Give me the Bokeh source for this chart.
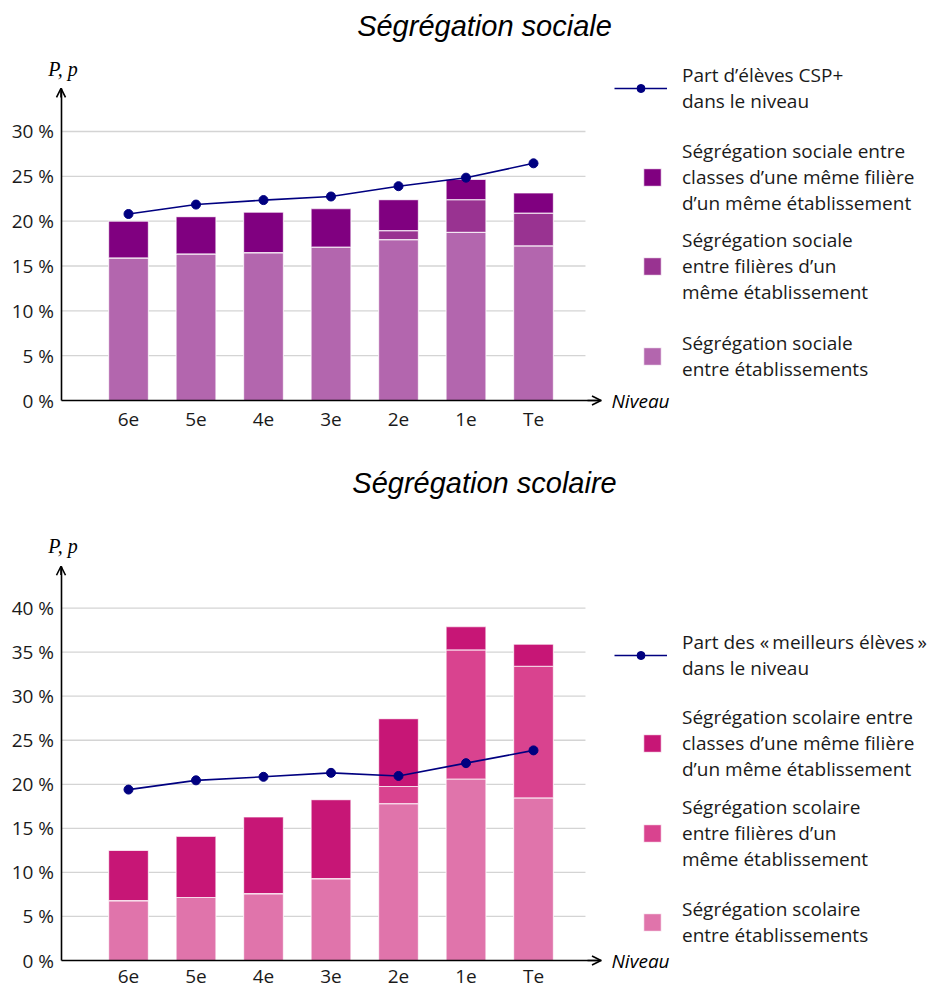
from bokeh.plotting import figure
from bokeh.models import (ColumnDataSource, Range1d, FixedTicker, Legend, LegendItem,
                          Label, Arrow, OpenHead)
from bokeh.layouts import column
from bokeh.embed import file_html
from bokeh.resources import INLINE

# ---------------- data ----------------
levels = ["6e", "5e", "4e", "3e", "2e", "1e", "Te"]

soc_etab = [15.9, 16.35, 16.5, 17.1, 17.95, 18.75, 17.25]
soc_fil = [0.0, 0.0, 0.0, 0.0, 1.0, 3.65, 3.65]
soc_cls = [4.1, 4.15, 4.5, 4.3, 3.45, 2.25, 2.25]
soc_part = [20.8, 21.85, 22.35, 22.75, 23.9, 24.85, 26.45]
soc_ticks = [0, 5, 10, 15, 20, 25, 30]

sco_etab = [6.8, 7.15, 7.6, 9.3, 17.8, 20.6, 18.45]
sco_fil = [0.0, 0.0, 0.0, 0.0, 1.95, 14.65, 14.95]
sco_cls = [5.7, 6.95, 8.7, 8.95, 7.7, 2.65, 2.5]
sco_part = [19.4, 20.45, 20.85, 21.3, 20.95, 22.4, 23.85]
sco_ticks = [0, 5, 10, 15, 20, 25, 30, 35, 40]

soc_title = "Ségrégation sociale"
sco_title = "Ségrégation scolaire"

soc_labels = [
    "Part d’élèves CSP+\ndans le niveau",
    "Ségrégation sociale entre\nclasses d’une même filière\nd’un même établissement",
    "Ségrégation sociale\nentre filières d’un\nmême établissement",
    "Ségrégation sociale\nentre établissements",
]
sco_labels = [
    "Part des «\u2009meilleurs élèves\u2009»\ndans le niveau",
    "Ségrégation scolaire entre\nclasses d’une même filière\nd’un même établissement",
    "Ségrégation scolaire\nentre filières d’un\nmême établissement",
    "Ségrégation scolaire\nentre établissements",
]

soc_colors = ["#b366ae", "#993391", "#800080"]
sco_colors = ["#e074ab", "#d9438f", "#c71676"]

# ---------------- style ----------------
LINE_COLOR = "#000080"
FONT = "Open Sans"
FS = 19
LH = 1.4
TEXT_COLOR = "#1a1a1a"
W = 929
OFF = 0            # page offset of the canvas
X_LEFT = -1.0      # y axis position
X_GRID_END = 6.77  # grid lines end
X_ARROW = 7.0      # x axis arrow tip
PX_X = 67.5        # px per category
AXIS_PAGE_X = 60.5


def make_chart(title, etab, fil, cls, part, ticks, ytop, labels, colors,
               page_top, height, zero_page_y, px_y, x_standoff,
               title_y, pp_y, legend_centers):
    x = list(range(len(levels)))
    src = ColumnDataSource(dict(x=x, etab=etab, fil=fil, cls=cls, part=part))
    gsrc = ColumnDataSource(dict(t=ticks[1:]))

    page_bottom = page_top + height
    x0 = X_LEFT - (AXIS_PAGE_X - OFF) / PX_X
    x1 = x0 + W / PX_X
    y1 = (zero_page_y - page_top) / px_y
    y0 = -(page_bottom - zero_page_y) / px_y

    p = figure(width=W, height=height, output_backend="svg", toolbar_location=None,
               x_range=Range1d(x0, x1), y_range=Range1d(y0, y1),
               min_border=0, min_border_left=0, min_border_right=0,
               min_border_top=0, min_border_bottom=0,
               outline_line_color=None)
    p.background_fill_color = "white"
    p.border_fill_color = "white"
    p.xgrid.visible = False
    p.ygrid.visible = False

    # horizontal grid lines, limited to the chart area
    p.segment(x0=X_LEFT, x1=X_GRID_END, y0="t", y1="t", source=gsrc,
              line_color="#d4d4d4", line_width=1.3)

    # axes (fixed inside the frame)
    p.xaxis.ticker = FixedTicker(ticks=x)
    p.xaxis.major_label_overrides = {i: lab for i, lab in zip(x, levels)}
    p.xaxis.fixed_location = 0
    p.xaxis.bounds = (X_LEFT, X_ARROW)
    p.yaxis.ticker = FixedTicker(ticks=ticks)
    p.yaxis.major_label_overrides = {t: f"{t} %" for t in ticks}
    p.yaxis.fixed_location = X_LEFT
    p.yaxis.bounds = (0, ytop)
    for ax in (p.xaxis, p.yaxis):
        ax.major_tick_out = 0
        ax.major_tick_in = 0
        ax.minor_tick_out = 0
        ax.minor_tick_in = 0
        ax.axis_line_color = "black"
        ax.axis_line_width = 1.6
        ax.major_label_text_font = FONT
        ax.major_label_text_font_size = f"{FS}px"
        ax.major_label_text_color = TEXT_COLOR
    p.yaxis.major_label_standoff = 7
    p.xaxis.major_label_standoff = x_standoff

    # stacked bars
    bars = p.vbar_stack(["etab", "fil", "cls"], x="x", width=0.59, color=colors,
                        source=src, line_color="white", line_alpha=0.7, line_width=1.2)
    # line
    lr = p.line("x", "part", source=src, line_color=LINE_COLOR, line_width=1.6)
    sr = p.scatter("x", "part", source=src, size=9, fill_color=LINE_COLOR,
                   line_color=LINE_COLOR)

    # arrow heads on the axes
    p.add_layout(Arrow(end=OpenHead(size=9, line_width=1.6, line_color="black"),
                       x_start=X_LEFT, y_start=ytop - 1, x_end=X_LEFT, y_end=ytop,
                       line_width=1.6, line_color="black"))
    p.add_layout(Arrow(end=OpenHead(size=9, line_width=1.6, line_color="black"),
                       x_start=X_ARROW - 0.2, y_start=0, x_end=X_ARROW, y_end=0,
                       line_width=1.6, line_color="black"))

    # texts (screen units: from the bottom-left of the canvas)
    def sy(page_y):
        return page_bottom - page_y

    p.add_layout(Label(x=484 - OFF, y=sy(title_y), x_units="screen", y_units="screen",
                       text=title, text_font="Liberation Sans", text_font_style="italic",
                       text_font_size="29px", text_align="center",
                       text_baseline="middle", text_color="black"))
    p.add_layout(Label(x=62.5 - OFF, y=sy(pp_y), x_units="screen", y_units="screen",
                       text="P, p", text_font="Liberation Serif", text_font_style="italic",
                       text_font_size="20px", text_align="center",
                       text_baseline="middle", text_color="black"))
    p.add_layout(Label(x=611 - OFF, y=sy(zero_page_y), x_units="screen", y_units="screen",
                       text="Niveau", text_font=FONT, text_font_style="italic",
                       text_font_size=f"{FS}px", text_align="left",
                       text_baseline="middle", text_color="black"))

    # legends, one per entry
    entries = [
        (labels[0], [lr, sr], 614, 53, 20, 15),
        (labels[1], [bars[2]], 641, 22, 22, 19),
        (labels[2], [bars[1]], 641, 22, 22, 19),
        (labels[3], [bars[0]], 641, 22, 22, 19),
    ]
    for (lab, rends, gx, gw, gh, so), cy in zip(entries, legend_centers):
        n = lab.count("\n") + 1
        h = max(gh, n * FS * LH)
        vy = sy(cy) - h / 2
        leg = Legend(items=[LegendItem(label=lab, renderers=rends)],
                     location=(gx - OFF, vy), orientation="vertical",
                     glyph_width=gw, glyph_height=gh, label_standoff=so,
                     label_text_font=FONT, label_text_font_size=f"{FS}px",
                     label_text_line_height=LH, label_text_color=TEXT_COLOR,
                     padding=0, margin=0, spacing=0, border_line_color=None,
                     background_fill_alpha=0, label_height=10, label_width=10)
        p.add_layout(leg, "center")
    return p


p1 = make_chart(soc_title, soc_etab, soc_fil, soc_cls, soc_part, soc_ticks, 34.8,
                soc_labels, soc_colors, page_top=0, height=448, zero_page_y=400,
                px_y=8.967, x_standoff=5, title_y=25, pp_y=68,
                legend_centers=[87, 176, 265, 355])
p2 = make_chart(sco_title, sco_etab, sco_fil, sco_cls, sco_part, sco_ticks, 44.75,
                sco_labels, sco_colors, page_top=448, height=540, zero_page_y=960,
                px_y=8.81, x_standoff=2, title_y=482, pp_y=545,
                legend_centers=[654, 742, 832, 921])

layout = column(p1, p2, spacing=0)
open("out.html", "w").write(file_html(layout, INLINE))
